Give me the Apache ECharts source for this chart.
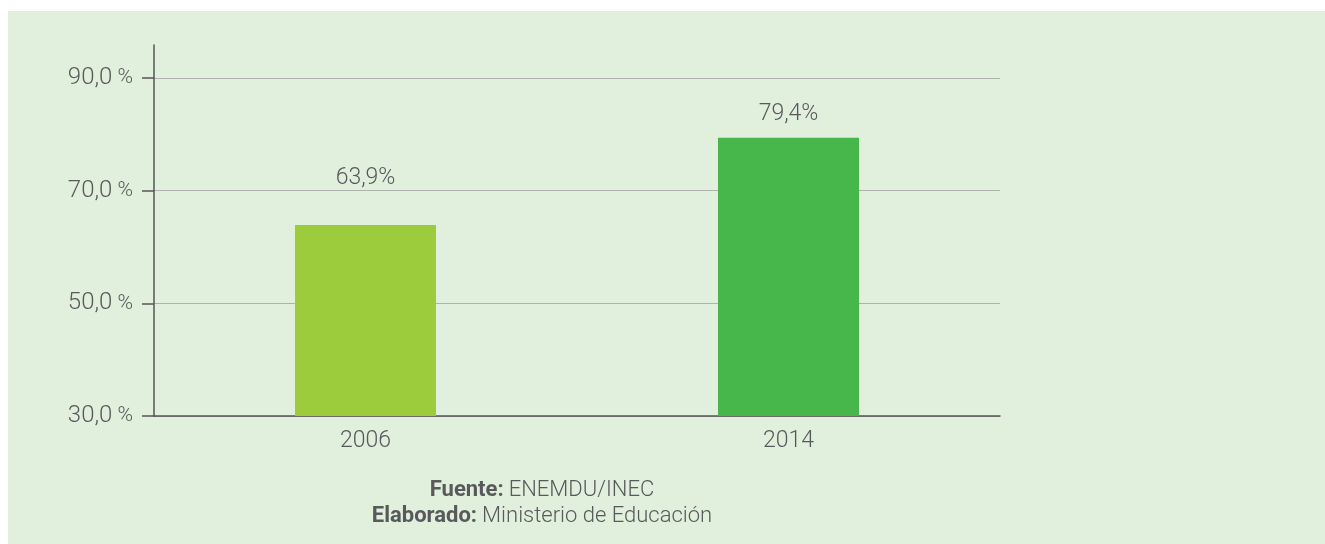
<!DOCTYPE html>
<html>
<head>
<meta charset="utf-8">
<script src="https://cdn.jsdelivr.net/npm/echarts@6/dist/echarts.min.js"></script>
<style>
  html, body { margin: 0; padding: 0; background: #ffffff; }
  #chart { position: absolute; left: 8px; top: 11px; width: 1317px; height: 533px; }
</style>
</head>
<body>
<div id="chart"></div>
<script>
// data
var years = ['2006', '2014'];
var values = [63.9, 79.4];
var barColors = ['#9ccc3c', '#47b74b'];
var yTicks = [30, 50, 70, 90];

var labelDistances = [35, 12];
var textColor = '#58595b';
var font = 'Roboto';

var chart = echarts.init(document.getElementById('chart'));

var fmtNum = function (v) {
    return v.toFixed(1).replace('.', ',');
};

chart.setOption({
    backgroundColor: '#e1efdd',
    animation: false,
    title: {
        left: 529,
        top: 461,
        textAlign: 'center',
        text: '{b|Fuente:} {n|ENEMDU/INEC}\n{b|Elaborado:} {n|Ministerio de Educación}',
        textStyle: {
            rich: {
                b: { fontFamily: font, fontWeight: 'bold', fontSize: 22, color: textColor, lineHeight: 26 },
                n: { fontFamily: font, fontWeight: 300, fontSize: 22, color: textColor, lineHeight: 26 }
            }
        }
    },
    grid: [
        { left: 146, right: 325, top: 67, bottom: 128 },
        { left: 146, right: 325, top: 34, bottom: 128 }
    ],
    xAxis: [{
        type: 'category',
        gridIndex: 0,
        data: years,
        axisLine: { lineStyle: { color: '#555555', width: 1.5 } },
        axisTick: { length: 16, lineStyle: { color: '#555555', width: 1.5 } },
        axisLabel: { margin: 14, fontFamily: font, fontWeight: 300, fontSize: 23, color: textColor }
    }, {
        type: 'category',
        gridIndex: 1,
        data: years,
        show: false
    }],
    yAxis: [{
        type: 'value',
        gridIndex: 0,
        min: yTicks[0],
        max: yTicks[yTicks.length - 1],
        interval: yTicks[1] - yTicks[0],
        axisLine: { show: false },
        axisTick: { show: true, length: 12, lineStyle: { color: '#555555', width: 1.5 } },
        splitLine: { lineStyle: { color: '#aeb3ab', width: 1.2 } },
        axisLabel: {
            margin: 21,
            fontFamily: font,
            fontWeight: 300,
            fontSize: 21,
            color: textColor,
            formatter: function (v) {
                return '{n|' + fmtNum(v) + '} %';
            },
            rich: {
                n: { fontFamily: font, fontWeight: 300, fontSize: 24, color: textColor }
            }
        }
    }, {
        type: 'value',
        gridIndex: 1,
        axisLine: { show: true, lineStyle: { color: '#555555', width: 1.5 } },
        axisTick: { show: false },
        axisLabel: { show: false },
        splitLine: { show: false }
    }],
    series: [{
        type: 'bar',
        xAxisIndex: 0,
        yAxisIndex: 0,
        barWidth: 141,
        data: values.map(function (v, i) {
            return {
                value: v,
                itemStyle: { color: barColors[i] },
                label: { distance: labelDistances[i] }
            };
        }),
        label: {
            show: true,
            position: 'top',
            fontFamily: font,
            fontWeight: 300,
            fontSize: 23,
            color: textColor,
            formatter: function (p) {
                return fmtNum(p.value) + '%';
            }
        }
    }]
});
</script>
</body>
</html>
